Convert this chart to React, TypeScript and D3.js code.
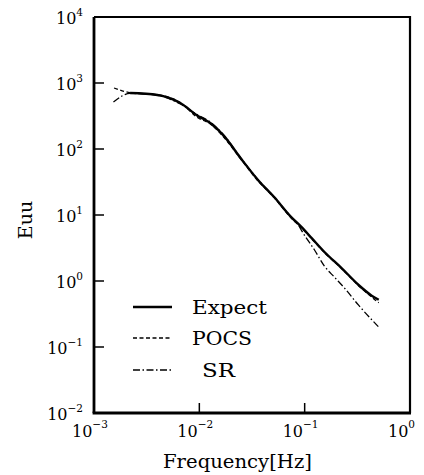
import React from "react";
import * as d3 from "d3";

const freqExpect = [0.0022, 0.004, 0.0066, 0.0096, 0.0128, 0.0171, 0.0248, 0.036, 0.0513, 0.0745, 0.093, 0.116, 0.154, 0.224, 0.325, 0.433, 0.505];
const euuExpect = [705, 658, 497, 320, 245, 158, 72, 34, 18.7, 9.3, 6.6, 4.5, 2.75, 1.57, 0.87, 0.6, 0.52];

const freqPOCS = [0.00155, 0.0022, 0.004, 0.0066, 0.0096, 0.0128, 0.0171, 0.0248, 0.036, 0.0513, 0.0745, 0.093, 0.116, 0.154, 0.224, 0.325, 0.433, 0.505];
const euuPOCS = [840, 715, 665, 505, 300, 238, 150, 70, 33, 18.3, 9.0, 6.4, 4.4, 2.7, 1.55, 0.85, 0.57, 0.47];

const freqSR = [0.00153, 0.0022, 0.004, 0.0066, 0.0096, 0.0128, 0.0171, 0.0248, 0.036, 0.0513, 0.0745, 0.085, 0.099, 0.124, 0.154, 0.192, 0.239, 0.325, 0.505];
const euuSR = [515, 695, 650, 480, 330, 255, 162, 73, 34.5, 18.7, 9.3, 7.4, 5.0, 2.95, 1.68, 1.14, 0.78, 0.43, 0.2];

const xTickExps = [-3, -2, -1, 0];
const yTickExps = [-2, -1, 0, 1, 2, 3, 4];

const legendItems = ["Expect", "POCS", " SR"];

const FONT = "'DejaVu Serif', serif";

export default function App() {
  const W = 424, H = 475;
  const left = 94, right = 410, top = 17, bottom = 413;
  const x = d3.scaleLog().domain([1e-3, 1]).range([left, right]);
  const y = d3.scaleLog().domain([1e-2, 1e4]).range([bottom, top]);

  const mk = (fs: number[], vs: number[]) =>
    d3.line<number>()
      .x((_, i) => x(fs[i]))
      .y((_, i) => y(vs[i]))
      .curve(d3.curveMonotoneX)(vs.map((v) => v)) || "";

  const styles = [
    { d: mk(freqExpect, euuExpect), w: 2.4, dash: "" },
    { d: mk(freqPOCS, euuPOCS), w: 1.3, dash: "4,2.5" },
    { d: mk(freqSR, euuSR), w: 1.3, dash: "7,2.5,1.5,2.5" },
  ];

  const legY = [307, 338, 370];
  const legW = [75, 60, 33];

  const expLabel = (e: number) => (e < 0 ? "\u2212" + Math.abs(e) : String(e));

  return (
    <svg width={W} height={H} style={{ position: "absolute", left: 0, top: 0, background: "#fff" }}>
      <g>
        {styles.map((s, i) => (
          <path key={i} d={s.d} fill="none" stroke="#000" strokeWidth={s.w} strokeDasharray={s.dash || undefined} />
        ))}
      </g>
      {/* frame */}
      <line x1={left} y1={top} x2={left} y2={bottom} stroke="#000" strokeWidth={2.8} />
      <line x1={left - 1.4} y1={bottom} x2={right + 1} y2={bottom} stroke="#000" strokeWidth={2.8} />
      <line x1={left} y1={top} x2={right} y2={top} stroke="#000" strokeWidth={2.2} />
      <line x1={right} y1={top - 1} x2={right} y2={bottom} stroke="#000" strokeWidth={2.2} />
      {/* y ticks */}
      {yTickExps.map((e) => (
        <g key={"y" + e}>
          {e > -2 && e < 4 && (
            <line x1={left} x2={left + 10} y1={y(Math.pow(10, e))} y2={y(Math.pow(10, e))} stroke="#000" strokeWidth={1.5} />
          )}
          <text x={83} y={y(Math.pow(10, e)) + 7} textAnchor="end" fontFamily={FONT} fontSize={16} fill="#000">
            10
            <tspan dy={-8} fontSize={10.5}>{expLabel(e)}</tspan>
          </text>
        </g>
      ))}
      {/* x ticks */}
      {xTickExps.map((e) => (
        <g key={"x" + e}>
          {e > -3 && e < 0 && (
            <line x1={x(Math.pow(10, e))} x2={x(Math.pow(10, e))} y1={bottom} y2={bottom - 10} stroke="#000" strokeWidth={1.5} />
          )}
          <text x={x(Math.pow(10, e)) - 22} y={bottom + 24} fontFamily={FONT} fontSize={16} fill="#000">
            10
            <tspan dy={-9} fontSize={10.5}>{expLabel(e)}</tspan>
          </text>
        </g>
      ))}
      <text x={163} y={468} textLength={149} lengthAdjust="spacingAndGlyphs" fontFamily={FONT} fontSize={19} fill="#000">Frequency[Hz]</text>
      <text transform="translate(32,220) rotate(-90)" textAnchor="middle" fontFamily={FONT} fontSize={19} fill="#000">Euu</text>
      {/* legend */}
      {legendItems.map((t, i) => (
        <g key={t}>
          <line x1={133} x2={172} y1={legY[i]} y2={legY[i]} stroke="#000" strokeWidth={styles[i].w} strokeDasharray={styles[i].dash || undefined} />
          <text x={i === 2 ? 202 : 192} y={legY[i] + 7} textLength={legW[i]} lengthAdjust="spacingAndGlyphs" fontFamily={FONT} fontSize={18} fill="#000">{t.trim()}</text>
        </g>
      ))}
    </svg>
  );
}
